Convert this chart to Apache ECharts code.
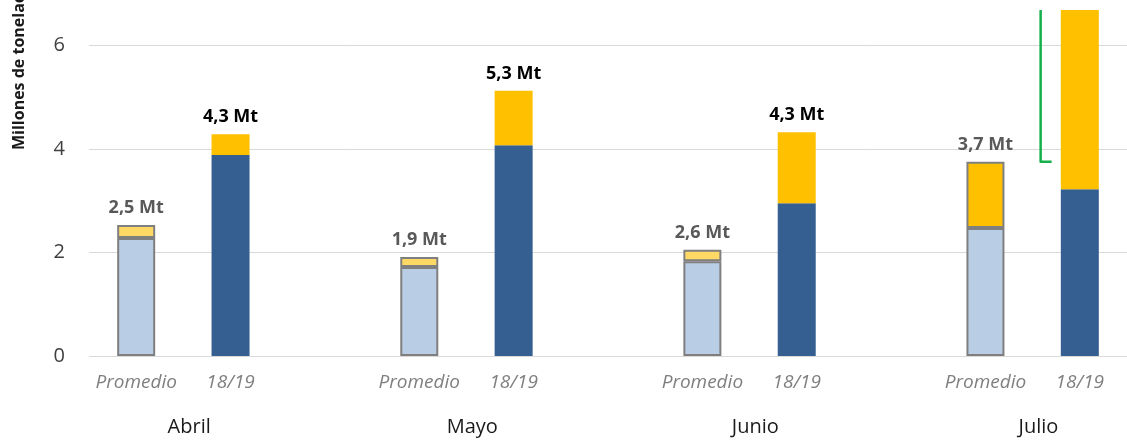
<!DOCTYPE html>
<html>
<head>
<meta charset="utf-8">
<script src="https://cdn.jsdelivr.net/npm/echarts@6/dist/echarts.min.js"></script>
<style>
  html, body { margin: 0; padding: 0; background: #fff; }
  #chart { width: 1127px; height: 440px; }
</style>
</head>
<body>
<div id="chart"></div>
<script>
// datos (millones de toneladas)
var months = ['Abril', 'Mayo', 'Junio', 'Julio']
var barNames = ['Promedio', '18/19']
var promedioBase = [2.28, 1.72, 1.83, 2.47]
var promedioExtra = [0.25, 0.19, 0.22, 1.28]
var actualBase = [3.88, 4.07, 2.95, 3.22]
var actualExtra = [0.40, 1.05, 1.37, 3.46]
var promedioLabels = ['2,5 Mt', '1,9 Mt', '2,6 Mt', '3,7 Mt']
var actualLabels = ['4,3 Mt', '5,3 Mt', '4,3 Mt', '']
var yTicks = [0, 2, 4, 6]

var FONT = '"Open Sans", "Noto Sans", sans-serif'
var GREY_BORDER = '#7f7f7f'

// 3 huecos por mes: Promedio, 18/19, espacio
var slots = []
var monthSlots = []
months.forEach(function (m, i) {
  slots.push(barNames[0], barNames[1])
  monthSlots.push(m, '')
  if (i < months.length - 1) {
    slots.push('')
    monthSlots.push('')
  }
})

function spread (arr, offset, mapFn) {
  var out = slots.map(function () { return '-' })
  arr.forEach(function (v, i) {
    out[i * 3 + offset] = mapFn ? mapFn(v, i) : v
  })
  return out
}

var chart = echarts.init(document.getElementById('chart'))

chart.setOption({
  animation: false,
  grid: {
    left: 89,
    right: -8,
    top: 10,
    bottom: 84
  },
  xAxis: [{
    type: 'category',
    data: slots,
    axisLine: { show: false },
    axisTick: { show: false },
    axisLabel: {
      interval: 0,
      margin: 17,
      color: '#7f7f7f',
      fontStyle: 'italic',
      fontFamily: FONT,
      fontSize: 19
    }
  }, {
    type: 'category',
    data: monthSlots,
    position: 'bottom',
    offset: 46,
    axisLine: { show: false },
    axisTick: { show: false },
    axisLabel: {
      interval: 0,
      margin: 15,
      color: '#1a1a1a',
      fontFamily: FONT,
      fontSize: 20,
      padding: [0, 0, 0, 106]
    }
  }],
  yAxis: {
    type: 'value',
    min: 0,
    max: 6.68,
    interval: 2,
    axisLine: { show: false },
    axisTick: { show: false },
    splitLine: { showMaxLine: false, lineStyle: { color: '#d9d9d9', width: 1 } },
    axisLabel: {
      margin: 24,
      color: '#404040',
      fontFamily: FONT,
      fontSize: 20,
      showMaxLabel: false,
      formatter: function (v) {
        return yTicks.indexOf(v) >= 0 ? String(v) : ''
      }
    }
  },
  series: [{
    name: 'Promedio base',
    type: 'bar',
    stack: 'total',
    barWidth: 38,
    data: spread(promedioBase, 0),
    itemStyle: { color: '#b9cde5', borderColor: GREY_BORDER, borderWidth: 2 }
  }, {
    name: 'Promedio extra',
    type: 'bar',
    stack: 'total',
    barWidth: 38,
    data: spread(promedioExtra, 0, function (v, i) {
      return {
        value: v,
        itemStyle: { color: i === months.length - 1 ? '#ffc000' : '#ffd966' }
      }
    }),
    itemStyle: { borderColor: GREY_BORDER, borderWidth: 2 },
    label: {
      show: true,
      position: 'top',
      distance: 8,
      color: '#595959',
      fontWeight: 'bold',
      fontFamily: FONT,
      fontSize: 18,
      formatter: function (p) {
        return promedioLabels[Math.floor(p.dataIndex / 3)]
      }
    }
  }, {
    name: '18/19 base',
    type: 'bar',
    stack: 'total',
    barWidth: 38,
    data: spread(actualBase, 1),
    itemStyle: { color: '#355f91' }
  }, {
    name: '18/19 extra',
    type: 'bar',
    stack: 'total',
    barWidth: 38,
    data: spread(actualExtra, 1),
    itemStyle: { color: '#ffc000' },
    label: {
      show: true,
      position: 'top',
      distance: 8,
      color: '#000',
      fontWeight: 'bold',
      fontFamily: FONT,
      fontSize: 18,
      formatter: function (p) {
        return actualLabels[Math.floor(p.dataIndex / 3)]
      }
    }
  }]
})

// corchete verde entre las barras de julio
var last = months.length - 1
var xProm = chart.convertToPixel({ xAxisIndex: 0 }, last * 3)
var xAct = chart.convertToPixel({ xAxisIndex: 0 }, last * 3 + 1)
var yLow = chart.convertToPixel({ yAxisIndex: 0 }, promedioBase[last] + promedioExtra[last])
var yHigh = chart.convertToPixel({ yAxisIndex: 0 }, actualBase[last] + actualExtra[last])
var bx = (xProm + xAct) / 2 + 8

chart.setOption({
  graphic: [{
    type: 'polyline',
    shape: { points: [[bx, yHigh], [bx, yLow], [bx + 11, yLow]] },
    style: { stroke: '#16b04a', lineWidth: 2.5, fill: null, lineJoin: 'round' }
  }, {
    type: 'text',
    x: 11,
    y: 150,
    rotation: Math.PI / 2,
    style: {
      text: 'Millones de toneladas',
      fill: '#1a1a1a',
      font: 'bold 16px ' + FONT,
      align: 'left',
      verticalAlign: 'top'
    }
  }]
})
</script>
</body>
</html>
